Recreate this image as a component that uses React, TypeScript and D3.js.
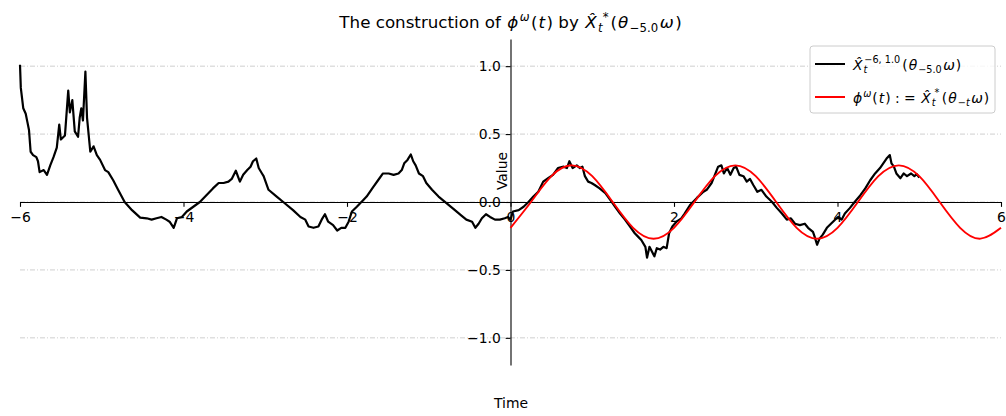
import { useEffect, useRef } from 'react'
import * as d3 from 'd3'

const W = 1006
const H = 416
const FONT = '"DejaVu Sans", sans-serif'
const PLOT = { left: 20, right: 1001, top: 39, bottom: 365 }

const xTicks = [-6, -4, -2, 0, 2, 4, 6]
const yTicks = [-1, -0.5, 0, 0.5, 1]

// black path: X^{-6,1.0}_t(theta_{-5.0} omega)
const blackT = [
  -6.0, -5.99, -5.96, -5.93, -5.91, -5.89, -5.87, -5.84, -5.8, -5.78, -5.76, -5.71, -5.67, -5.63, -5.59,
  -5.55, -5.52, -5.5, -5.45, -5.41, -5.39, -5.36, -5.33, -5.29, -5.27, -5.25, -5.23, -5.2, -5.18, -5.14,
  -5.1, -5.06, -5.02, -4.96, -4.92, -4.86, -4.8, -4.72, -4.63, -4.53, -4.45, -4.39, -4.33, -4.27, -4.21,
  -4.17, -4.12, -4.08, -4.02, -3.96, -3.88, -3.8, -3.72, -3.64, -3.57, -3.51, -3.45, -3.41, -3.36, -3.31,
  -3.27, -3.22, -3.18, -3.15, -3.11, -3.08, -3.04, -3.02, -2.96, -2.86, -2.78, -2.66, -2.57, -2.51, -2.47,
  -2.41, -2.35, -2.31, -2.27, -2.23, -2.17, -2.12, -2.07, -2.02, -1.98, -1.94, -1.88, -1.8, -1.76, -1.68,
  -1.62, -1.56, -1.49, -1.43, -1.37, -1.33, -1.3, -1.26, -1.22, -1.19, -1.16, -1.12, -1.07, -1.03, -0.96,
  -0.88, -0.78, -0.68, -0.6, -0.54, -0.47, -0.43, -0.39, -0.35, -0.3, -0.25, -0.19, -0.13, -0.07, -0.03,
  0.0, 0.03, 0.1, 0.16, 0.22, 0.28, 0.34, 0.4, 0.46, 0.52, 0.58, 0.65, 0.69, 0.72, 0.76,
  0.81, 0.85, 0.88, 0.91, 0.95, 0.99, 1.03, 1.09, 1.16, 1.22, 1.28, 1.34, 1.4, 1.46, 1.52,
  1.56, 1.6, 1.65, 1.67, 1.7, 1.73, 1.76, 1.79, 1.83, 1.87, 1.91, 1.94, 1.98, 2.03, 2.09,
  2.13, 2.2, 2.28, 2.36, 2.4, 2.46, 2.5, 2.54, 2.58, 2.61, 2.65, 2.69, 2.73, 2.76, 2.8,
  2.85, 2.89, 2.93, 2.97, 3.02, 3.07, 3.13, 3.2, 3.26, 3.32, 3.38, 3.43, 3.48, 3.54, 3.6,
  3.64, 3.7, 3.72, 3.75, 3.78, 3.82, 3.87, 3.92, 3.97, 4.01, 4.05, 4.09, 4.15, 4.21, 4.28,
  4.34, 4.4, 4.46, 4.52, 4.56, 4.6, 4.64, 4.66, 4.69, 4.72, 4.77, 4.81, 4.85, 4.9, 4.94,
  4.97, 5.0,
]
const blackV = [
  1.01, 0.84, 0.69, 0.65, 0.59, 0.53, 0.37, 0.345, 0.33, 0.3, 0.22, 0.235, 0.2, 0.27, 0.33,
  0.4, 0.57, 0.46, 0.49, 0.82, 0.66, 0.75, 0.52, 0.48, 0.62, 0.69, 0.6, 0.96, 0.62, 0.37,
  0.41, 0.345, 0.31, 0.235, 0.22, 0.16, 0.09, 0.0, -0.06, -0.115, -0.12, -0.13, -0.12, -0.11, -0.13,
  -0.145, -0.19, -0.12, -0.11, -0.07, -0.035, 0.0, 0.05, 0.1, 0.14, 0.14, 0.15, 0.17, 0.23, 0.15,
  0.2, 0.235, 0.26, 0.3, 0.32, 0.25, 0.21, 0.19, 0.09, 0.04, 0.0, -0.06, -0.11, -0.13, -0.18,
  -0.19, -0.18, -0.13, -0.09, -0.145, -0.17, -0.21, -0.19, -0.19, -0.145, -0.07, -0.035, 0.015, 0.04, 0.11,
  0.16, 0.21, 0.21, 0.2, 0.21, 0.235, 0.285, 0.31, 0.35, 0.3, 0.27, 0.21, 0.19, 0.14, 0.09,
  0.04, -0.01, -0.06, -0.1, -0.13, -0.145, -0.19, -0.16, -0.12, -0.09, -0.11, -0.13, -0.13, -0.12, -0.11,
  -0.13, -0.07, -0.06, -0.035, 0.0, 0.04, 0.075, 0.15, 0.175, 0.2, 0.25, 0.26, 0.25, 0.3, 0.25,
  0.27, 0.25, 0.26, 0.19, 0.15, 0.14, 0.125, 0.1, 0.065, 0.015, -0.035, -0.085, -0.13, -0.18, -0.23,
  -0.255, -0.28, -0.33, -0.41, -0.33, -0.365, -0.4, -0.34, -0.35, -0.33, -0.34, -0.23, -0.18, -0.145, -0.12,
  -0.085, -0.02, 0.03, 0.075, 0.09, 0.14, 0.2, 0.26, 0.27, 0.21, 0.25, 0.2, 0.25, 0.26, 0.2,
  0.19, 0.15, 0.17, 0.125, 0.075, 0.09, 0.04, 0.0, -0.045, -0.085, -0.13, -0.12, -0.16, -0.17, -0.16,
  -0.19, -0.22, -0.255, -0.315, -0.27, -0.24, -0.19, -0.16, -0.13, -0.11, -0.13, -0.085, -0.045, 0.0, 0.05,
  0.1, 0.16, 0.21, 0.25, 0.285, 0.32, 0.345, 0.285, 0.26, 0.21, 0.175, 0.21, 0.19, 0.21, 0.19,
  0.205, 0.18,
]

// red curve: phi^omega(t), sampled every 0.25
const redT = [0, 0.25, 0.5, 0.75, 1, 1.25, 1.5, 1.75, 2, 2.25, 2.5, 2.75, 3, 3.25, 3.5, 3.75, 4, 4.25, 4.5, 4.75, 5, 5.25, 5.5, 5.75, 6]
const redV = [-0.19, 0, 0.19, 0.27, 0.19, 0, -0.19, -0.27, -0.19, 0, 0.19, 0.27, 0.19, 0, -0.19, -0.27, -0.19, 0, 0.19, 0.27, 0.19, 0, -0.19, -0.27, -0.19]

export default function App() {
  const svgRef = useRef<SVGSVGElement>(null)

  useEffect(() => {
    if (!svgRef.current) return
    const svg = d3.select(svgRef.current)
    const g = svg.select<SVGGElement>('g.plot')
    g.selectAll('*').remove()

    const x = d3.scaleLinear().domain([-6, 6]).range([PLOT.left, PLOT.right])
    const y = d3.scaleLinear().domain([-1.2, 1.2]).range([PLOT.bottom, PLOT.top])

    // horizontal grid, dash-dot
    g.append('g')
      .selectAll('line')
      .data(yTicks)
      .join('line')
      .attr('x1', PLOT.left).attr('x2', PLOT.right)
      .attr('y1', d => y(d)).attr('y2', d => y(d))
      .attr('stroke', '#c4c4c4')
      .attr('stroke-width', 0.8)
      .attr('stroke-dasharray', '5,2,1,2')

    // spines through the origin
    const tick = 4.86
    const xAxis = d3.axisBottom(x)
      .tickValues(xTicks)
      .tickFormat(d3.format('d'))
      .tickSize(tick)
      .tickSizeOuter(0)
      .tickPadding(tick)
    g.append('g')
      .attr('transform', `translate(0,${y(0)})`)
      .call(xAxis)
      .call(ax => ax.select('.domain').attr('stroke', '#000').attr('stroke-width', 1.1))
      .call(ax => ax.selectAll('.tick line').attr('stroke', '#000').attr('stroke-width', 1.1))
      .call(ax => ax.selectAll('text')
        .attr('font-size', 13.9)
        .attr('font-family', FONT)
        .attr('fill', '#000'))

    const yAxis = d3.axisLeft(y)
      .tickValues(yTicks)
      .tickFormat(d3.format('.1f'))
      .tickSize(tick)
      .tickSizeOuter(0)
      .tickPadding(tick)
    g.append('g')
      .attr('transform', `translate(${x(0)},0)`)
      .call(yAxis)
      .call(ax => ax.select('.domain').attr('stroke', '#000').attr('stroke-width', 1.1))
      .call(ax => ax.selectAll('.tick line').attr('stroke', '#000').attr('stroke-width', 1.1))
      .call(ax => ax.selectAll('text')
        .attr('font-size', 13.9)
        .attr('font-family', FONT)
        .attr('fill', '#000'))

    // black path
    const blackPts = blackT.map((t, i) => [t, blackV[i]] as [number, number])
    g.append('path')
      .datum(blackPts)
      .attr('fill', 'none')
      .attr('stroke', '#000')
      .attr('stroke-width', 2.2)
      .attr('stroke-linejoin', 'round')
      .attr('d', d3.line<[number, number]>().x(d => x(d[0])).y(d => y(d[1])))

    // red curve
    const redPts = redT.map((t, i) => [t, redV[i]] as [number, number])
    g.append('path')
      .datum(redPts)
      .attr('fill', 'none')
      .attr('stroke', '#ff0000')
      .attr('stroke-width', 1.9)
      .attr('d', d3.line<[number, number]>().x(d => x(d[0])).y(d => y(d[1])).curve(d3.curveNatural))
  }, [])

  const lg = { x: 810, y: 46, w: 185, h: 67 }

  return (
    <div style={{ position: 'absolute', left: 0, top: 0 }}>
      <svg ref={svgRef} width={W} height={H} style={{ display: 'block', fontFamily: FONT, background: '#fff' }}>
        <g className="plot" />

        {/* title */}
        <text x={510.5} y={28} textAnchor="middle" fontSize={16.7} fill="#000">
          <tspan>{'The construction of '}</tspan>
          <tspan fontStyle="italic" dx={1}>ϕ</tspan>
          <tspan fontSize={11.7} fontStyle="italic" dx={1.5} dy={-7}>ω</tspan>
          <tspan dx={1.5} dy={7}>(</tspan>
          <tspan fontStyle="italic" dx={1}>t</tspan>
          <tspan dx={1.5}>{') by '}</tspan>
          <tspan fontStyle="italic" dx={1}>X̂</tspan>
          <tspan fontSize={11.7} fontStyle="italic" dx={1.5} dy={4}>t</tspan>
          <tspan fontSize={11.7} dx={0} dy={-11}>*</tspan>
          <tspan dx={2} dy={7}>(</tspan>
          <tspan fontStyle="italic" dx={1}>θ</tspan>
          <tspan fontSize={11.7} dx={1.5} dy={4}>−5.0</tspan>
          <tspan fontStyle="italic" dx={1.5} dy={-4}>ω</tspan>
          <tspan dx={1.5}>)</tspan>
        </text>

        {/* axis labels */}
        <text transform="translate(502.5,171) rotate(-90)" textAnchor="middle" dy="0.35em" fontSize={13.9}>Value</text>
        <text x={511} y={408} textAnchor="middle" fontSize={13.9}>Time</text>

        {/* legend */}
        <g>
          <rect x={lg.x} y={lg.y} width={lg.w} height={lg.h} rx={3} fill="#fff" fillOpacity={0.8} stroke="#cccccc" strokeWidth={1} />
          <line x1={815} x2={845} y1={64} y2={64} stroke="#000" strokeWidth={2} />
          <text x={853} y={70} fontSize={13.9}>
            <tspan fontStyle="italic">X̂</tspan>
            <tspan fontSize={9.7} fontStyle="italic" dx={1} dy={3}>t</tspan>
            <tspan fontSize={9.7} dx={-3} dy={-10}>−6, 1.0</tspan>
            <tspan dx={2} dy={7}>(</tspan>
            <tspan fontStyle="italic" dx={1}>θ</tspan>
            <tspan fontSize={9.7} dx={1} dy={3}>−5.0</tspan>
            <tspan fontStyle="italic" dx={1.5} dy={-3}>ω</tspan>
            <tspan dx={1}>)</tspan>
          </text>
          <line x1={815} x2={845} y1={97} y2={97} stroke="#ff0000" strokeWidth={2} />
          <text x={853} y={103} fontSize={13.9}>
            <tspan fontStyle="italic">ϕ</tspan>
            <tspan fontSize={9.7} fontStyle="italic" dx={1} dy={-6}>ω</tspan>
            <tspan dx={1} dy={6}>(</tspan>
            <tspan fontStyle="italic" dx={1}>t</tspan>
            <tspan dx={1}>{') : = '}</tspan>
            <tspan fontStyle="italic" dx={1}>X̂</tspan>
            <tspan fontSize={9.7} fontStyle="italic" dx={1} dy={3}>t</tspan>
            <tspan fontSize={9.7} dx={-1} dy={-10}>*</tspan>
            <tspan dx={2.5} dy={7}>(</tspan>
            <tspan fontStyle="italic" dx={1}>θ</tspan>
            <tspan fontSize={9.7} dx={1} dy={3}>−</tspan>
            <tspan fontSize={9.7} fontStyle="italic">t</tspan>
            <tspan fontStyle="italic" dx={1.5} dy={-3}>ω</tspan>
            <tspan dx={1}>)</tspan>
          </text>
        </g>
      </svg>
    </div>
  )
}
